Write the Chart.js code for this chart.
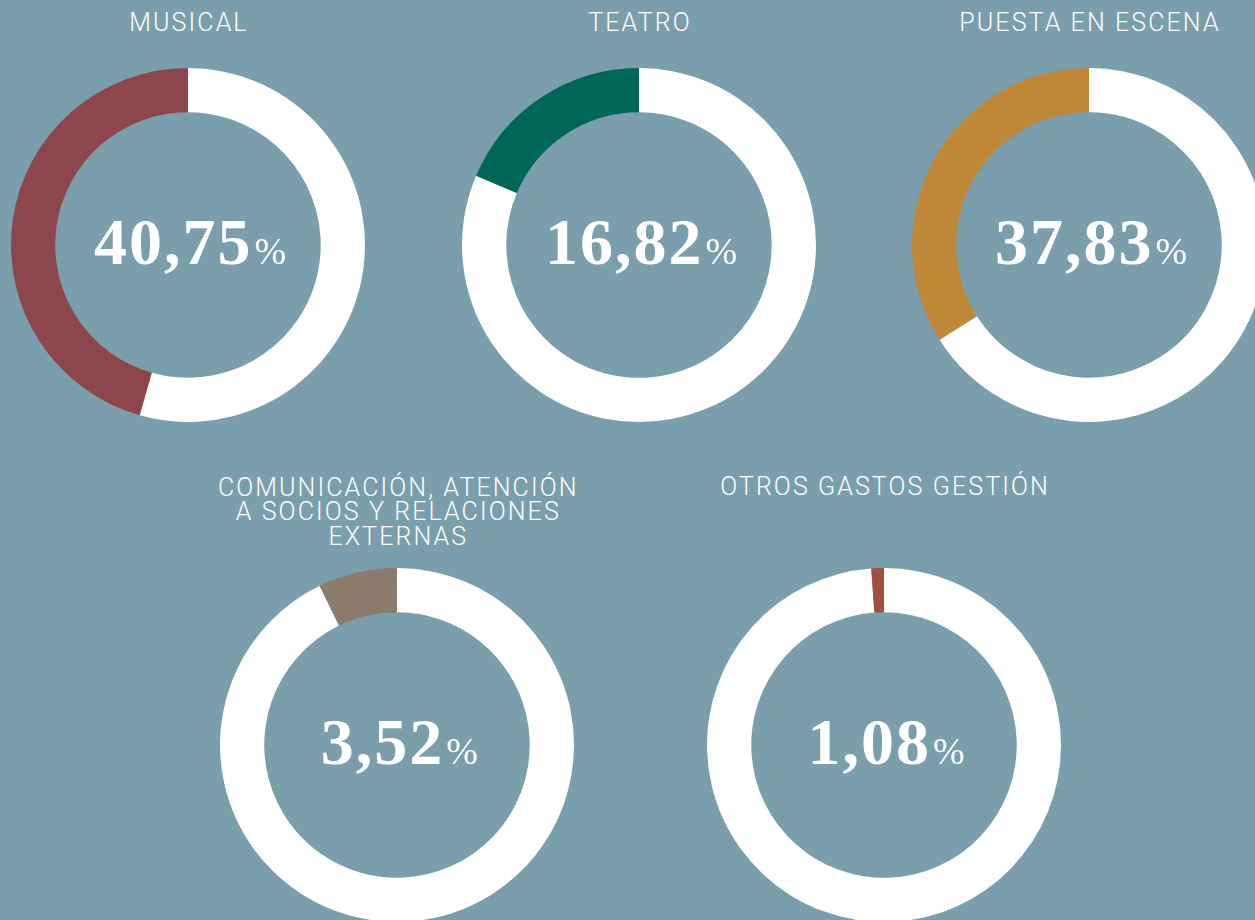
<!DOCTYPE html>
<html lang="es">
<head>
<meta charset="utf-8">
<title>Distribución de gastos</title>
<script src="https://cdn.jsdelivr.net/npm/chart.js@4.4.0/dist/chart.umd.min.js"></script>
<style>
    html, body {
        margin: 0;
        padding: 0;
        width: 1255px;
        height: 920px;
        overflow: hidden;
        background: #7a9eab;
    }
    .chart-box {
        position: absolute;
        width: 354px;
        height: 354px;
    }
    .title {
        position: absolute;
        width: 420px;
        text-align: center;
        color: #ffffff;
        font-family: Roboto, "Liberation Sans", sans-serif;
        font-weight: 300;
        font-size: 25px;
        line-height: 24.5px;
        letter-spacing: 2.1px;
    }
    .value {
        position: absolute;
        width: 400px;
        text-align: center;
        color: #ffffff;
        font-family: "Liberation Serif", "DejaVu Serif", serif;
        font-weight: bold;
        font-size: 66px;
        line-height: 66px;
        letter-spacing: 2px;
        white-space: nowrap;
    }
    .value .pct {
        font-size: 38px;
        font-weight: normal;
        letter-spacing: 0;
        margin-left: 2px;
    }
</style>
</head>
<body>
<script>
// categories (titles as printed)
const categories = [
    'MUSICAL',
    'TEATRO',
    'PUESTA EN ESCENA',
    'COMUNICACIÓN, ATENCIÓN<br>A SOCIOS Y RELACIONES<br>EXTERNAS',
    'OTROS GASTOS GESTIÓN'
];
// percentages printed in the centre of each ring
const valueLabels = ['40,75', '16,82', '37,83', '3,52', '1,08'];
// share of each ring filled with colour, as drawn (%)
const arcShares = [45.6, 18.6, 34.0, 7.2, 1.15];
const arcColors = ['#8e464d', '#006655', '#c08939', '#8c7a6a', '#a0503c'];

// ring centres on the page
const centers = [
    [188, 244.5],
    [639, 244.5],
    [1089, 244.5],
    [397.3, 744.5],
    [884, 744.5]
];
const titleBaselines = [32.3, 32.3, 32.3, 496.7, 496];

const ringSize = 354;

categories.forEach((cat, i) => {
    const [cx, cy] = centers[i];

    const box = document.createElement('div');
    box.className = 'chart-box';
    box.style.left = (cx - ringSize / 2) + 'px';
    box.style.top = (cy - ringSize / 2) + 'px';
    const canvas = document.createElement('canvas');
    box.appendChild(canvas);
    document.body.appendChild(box);

    const title = document.createElement('div');
    title.className = 'title';
    title.innerHTML = cat;
    title.style.left = (cx - 209) + 'px';
    title.style.top = (titleBaselines[i] - 21) + 'px';
    document.body.appendChild(title);

    const val = document.createElement('div');
    val.className = 'value';
    val.innerHTML = valueLabels[i] + '<span class="pct">%</span>';
    val.style.left = (cx - 198) + 'px';
    val.style.top = (cy + 19 - 55) + 'px';
    document.body.appendChild(val);

    new Chart(canvas, {
        type: 'doughnut',
        data: {
            labels: ['', cat],
            datasets: [{
                // white remainder first so the coloured part ends at 12 o'clock
                data: [100 - arcShares[i], arcShares[i]],
                backgroundColor: ['#ffffff', arcColors[i]],
                borderWidth: 0,
                hoverOffset: 0
            }]
        },
        options: {
            responsive: true,
            maintainAspectRatio: false,
            animation: false,
            cutout: '75%',
            layout: { padding: 0 },
            plugins: {
                legend: { display: false },
                tooltip: { enabled: false }
            },
            events: []
        }
    });
});
</script>
</body>
</html>
